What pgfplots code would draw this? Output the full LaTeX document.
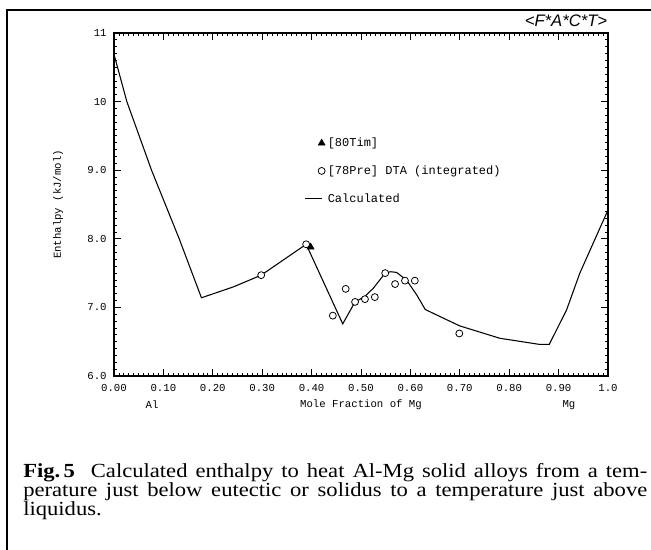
\documentclass[border=0pt]{standalone}
\usepackage{fontspec}
\setmainfont{Liberation Serif}
\setsansfont{Liberation Sans}
\setmonofont{Liberation Mono}
\newfontfamily\capfont[FakeStretch=1.13]{Liberation Serif}
\usepackage{pgfplots}
\usepackage{pgfplotstable}
\pgfplotsset{compat=1.18}
\pgfplotsset{
  legmark/.style={legend image code/.code={\draw[##1] plot coordinates {(12.5pt,0pt)};}},
  legline/.style={legend image code/.code={\draw[##1] (0pt,0pt) -- (12.5pt,0pt);}},
}

\pgfplotstableread{
x y
0.000 10.69
0.026 10.00
0.076 9.00
0.132 8.00
0.177 7.14
0.242 7.30
0.298 7.47
0.389 7.92
0.463 6.76
0.488 7.08
0.508 7.16
0.525 7.28
0.549 7.50
0.560 7.52
0.572 7.51
0.592 7.40
0.613 7.18
0.630 6.97
0.653 6.89
0.700 6.73
0.781 6.55
0.862 6.46
0.881 6.46
0.916 6.96
0.943 7.50
1.000 8.42
}\calcdata

\pgfplotstableread{
x y
0.298 7.47
0.389 7.92
0.443 6.88
0.469 7.27
0.488 7.08
0.508 7.12
0.528 7.15
0.549 7.50
0.569 7.34
0.589 7.39
0.609 7.39
0.699 6.62
}\predata

\pgfplotstableread{
x y
0.398 7.88
}\timdata

\begin{document}
\begin{tikzpicture}
\useasboundingbox (0pt,0pt) rectangle (488.25pt,412.5pt);
\draw[line width=1.6pt] (5.25pt,0pt) -- (5.25pt,405pt) -- (488.25pt,405pt);
\node[font=\sffamily\itshape\fontsize{12.5}{14}\selectfont, inner sep=0pt] at (424.5pt,396.75pt) {<F*A*C*T>};

\begin{axis}[
  at={(85.5pt,130.5pt)}, anchor=south west,
  scale only axis, width=370.5pt, height=257.25pt,
  xmin=0, xmax=1, ymin=6, ymax=11,
  xtick={0,0.1,0.2,0.3,0.4,0.5,0.6,0.7,0.8,0.9,1},
  xticklabels={0.00,0.10,0.20,0.30,0.40,0.50,0.60,0.70,0.80,0.90,1.0},
  ytick={6,7,8,9,10,11},
  yticklabels={6.0,7.0,8.0,9.0,10,11},
  minor x tick num=9,
  minor y tick num=9,
  tick align=inside,
  major tick length=5pt, minor tick length=2.6pt,
  major tick style={black, line width=0.7pt},
  minor tick style={black, line width=0.6pt},
  axis line style={line width=0.8pt},
  ticklabel style={font=\fontsize{8}{9}\ttfamily\selectfont},
  xticklabel style={yshift=-2.5pt},
  yticklabel style={xshift=-2pt},
  clip=false,
  legend cell align=left,
  legend style={at={(axis description cs:0.385,0.703)}, anchor=north west,
    draw=none, fill=none, font=\fontsize{9}{10}\ttfamily\selectfont,
    row sep=8.8pt, inner sep=0pt},
]
\addlegendimage{black, only marks, mark=triangle*, mark size=3pt, legmark}
\addlegendentry{[80Tim]}
\addlegendimage{black, only marks, mark=*, mark size=2.6pt, mark options={fill=white, draw=black, line width=0.6pt}, legmark}
\addlegendentry{[78Pre] DTA (integrated)}
\addlegendimage{black, line width=0.8pt, legline}
\addlegendentry{Calculated}

\addplot[black, line width=0.8pt, forget plot] table {\calcdata};
\addplot[black, only marks, mark=triangle*, mark size=3pt, forget plot] table {\timdata};
\addplot[black, only marks, mark=*, mark size=2.6pt, mark options={fill=white, draw=black, line width=0.6pt}, forget plot] table {\predata};

\node[font=\fontsize{8}{9}\ttfamily\selectfont] at (axis cs:0.077,6) [yshift=-21.75pt] {Al};
\node[font=\fontsize{8}{9}\ttfamily\selectfont] at (axis cs:0.5,6) [yshift=-21.75pt] {Mole Fraction of Mg};
\node[font=\fontsize{8}{9}\ttfamily\selectfont] at (axis cs:0.921,6) [yshift=-21.75pt] {Mg};
\node[font=\fontsize{8}{9}\ttfamily\selectfont, rotate=90] at ([xshift=-42pt]axis description cs:0,0.5) {Enthalpy (kJ/mol)};
\end{axis}

\node[anchor=base west, inner sep=0pt] at (17.25pt,54pt) {\capfont\fontsize{15}{14.25}\selectfont\makebox[468pt][s]{\textbf{Fig.\,5}\ \ Calculated enthalpy to heat Al-Mg solid alloys from a tem-}};
\node[anchor=base west, inner sep=0pt] at (17.25pt,39.75pt) {\capfont\fontsize{15}{14.25}\selectfont\makebox[468pt][s]{perature just below eutectic or solidus to a temperature just above}};
\node[anchor=base west, inner sep=0pt] at (17.25pt,25.5pt) {\capfont\fontsize{15}{14.25}\selectfont liquidus.};
\end{tikzpicture}
\end{document}
